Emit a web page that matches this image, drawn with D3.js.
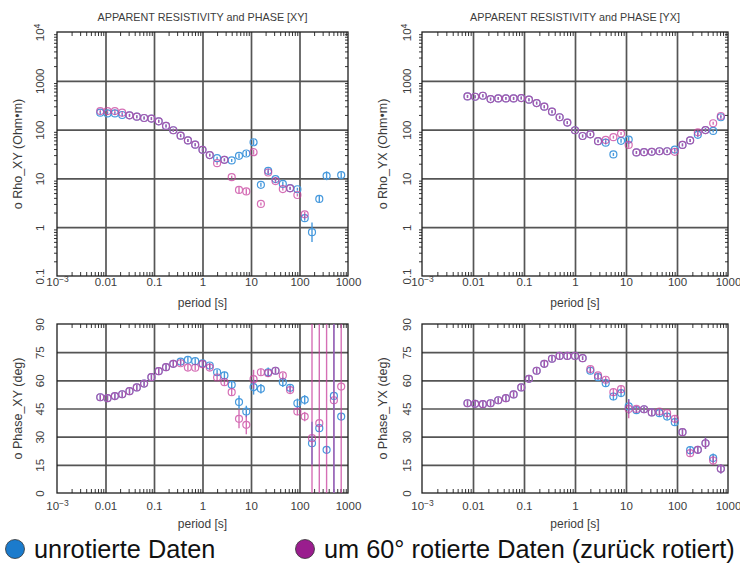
<!DOCTYPE html>
<html><head><meta charset="utf-8">
<script src="https://cdn.jsdelivr.net/npm/d3@7"></script>
<style>
body{margin:0;background:#fff;}
svg{display:block;font-family:"Liberation Sans",Arial,Helvetica,sans-serif;}
</style></head><body>
<svg id="chart" width="740" height="563"></svg>
<script>
// periods [s]
const periods=[0.0078,0.011,0.0156,0.0221,0.03125,0.0442,0.0625,0.0884,0.125,0.177,0.25,0.354,0.5,0.707,
  1,1.41,2,2.83,4,5.66,8,11.3,16,22.6,32,45.3,64,90.5,128,181,256,362,512,724];

// apparent resistivity XY / YX (Ohm m), blue = unrotated, pink = rotated back
const rhoXYBlue=[222,215,215,199,196,184,173,168,148,119,97,75,60,49,
  38.5,30,26,24,23.3,29,32.4,55,7.4,14.3,9.7,7.7,6.3,6.0,1.53,0.79,3.8,11.3,null,11.7];
const rhoXYPink=[240,240,240,222,196,184,173,168,148,119,97,75,60,49,
  38.5,30,20.5,24,10.6,5.8,5.4,34.4,3.0,13.2,8.8,6.05,6.25,4.57,1.84,null,null,null,null,null];
const rhoYXBlue=[479,471,494,422,436,436,436,443,410,350,295,233,179,139,
  97,74,80,58,54,31,59,62.5,34,34.5,35,36,36,39,48.6,60,78,98,94,179];
const rhoYXPink=[479,471,494,422,436,436,436,443,410,350,295,233,179,139,
  97,74,80,58,61.5,70,83,48.6,34,34.5,35,36,36,35,48.6,60,88,98,135,190];
// errors in decades
const rhoXYBlueErr=[.03,.03,.03,.03,.03,.03,.03,.03,.03,.03,.03,.03,.03,.03,
  .03,.03,.03,.03,.03,.05,.05,.06,.04,.05,.04,.05,.03,.03,.05,.2,.07,.09,0,.06];
const rhoXYPinkErr=[.03,.03,.03,.03,.03,.03,.03,.03,.03,.03,.03,.03,.03,.03,
  .03,.03,.03,.03,.03,.07,.06,.05,.03,.04,.04,.03,.03,.03,.05,0,0,0,0,0];
const rhoYXBlueErr=[.03,.03,.03,.03,.03,.03,.03,.03,.03,.03,.03,.03,.03,.03,
  .03,.03,.03,.03,.04,.03,.04,.05,.03,.03,.03,.03,.03,.03,.03,.03,.05,.04,.03,.03];
const rhoYXPinkErr=[.03,.03,.03,.03,.03,.03,.03,.03,.03,.03,.03,.03,.03,.03,
  .03,.03,.03,.03,.03,.03,.03,.06,.03,.03,.03,.03,.03,.03,.03,.03,.05,.03,.03,.03];

// phase XY / YX (deg)
const phaseXYBlue=[51.0,50.5,51.6,52.6,54.2,56.2,58.3,61.7,64.9,67.0,68.8,70.0,70.9,70.2,
  69.0,67.9,64.3,62.6,57.6,48.4,43.4,56.4,55.5,64.3,65.1,59.0,56.0,47.8,49.6,26.5,34.5,23.0,51.7,40.7];
const phaseXYPink=[51.0,50.5,51.6,52.6,54.2,56.2,58.3,61.7,64.9,67.0,68.8,69.1,66.8,66.7,
  68.6,66.8,61.5,59.0,53.7,39.5,36.3,60.6,64.3,63.8,65.1,62.6,54.8,43.4,40.7,29.2,37.2,-3,49.4,56.7];
const phaseYXBlue=[47.8,47.5,47.3,47.8,49.4,50.5,52.5,56.2,60.8,65.1,68.8,71.5,73.0,73.0,
  73.0,71.8,65.1,61.7,58.5,51.4,53.2,46.1,44.1,44.6,42.9,42.5,40.7,37.7,32.4,22.8,23.0,26.5,18.6,12.9];
const phaseYXPink=[47.8,47.5,47.3,47.8,49.4,50.5,52.5,56.2,60.8,65.1,68.8,71.5,73.0,73.0,
  73.0,71.8,66.0,62.6,60.3,53.7,55.3,44.8,44.8,44.6,42.9,43.4,42.5,39.5,32.4,21.2,23.0,26.5,17.3,12.9];
const phaseXYBlueErr=[1.5,1.5,1.5,1.5,1.5,1.5,1.5,1.5,1.5,1.5,1.5,1.5,1.5,1.5,
  1.5,1.5,1.5,2,2,3.5,3,4,2.5,2.5,1.5,2.5,1.5,2.5,2.5,11.5,1.5,1.5,95,1.5];
const phaseXYPinkErr=[1.5,1.5,1.5,1.5,1.5,1.5,1.5,1.5,1.5,1.5,1.5,1.5,1.5,1.5,
  1.5,1.5,1.5,1.5,2,5,5,5,2,1.5,1.5,1.5,1.5,2,2.5,95,95,95,95,95];
const phaseYXBlueErr=[1.5,1.5,1.5,1.5,1.5,1.5,1.5,1.5,1.5,1.5,1.5,1.5,1.5,1.5,
  1,1,1.5,1.5,1.5,2,2,4,1.5,1.5,1.5,1.5,1.5,2,1.5,2,2,3,2.5,2.5];
const phaseYXPinkErr=[1.5,1.5,1.5,1.5,1.5,1.5,1.5,1.5,1.5,1.5,1.5,1.5,1.5,1.5,
  1,1,1.5,1.5,1.5,2,2,5,1.5,1.5,1.5,1.5,1.5,2,1.5,2,2,3,2.5,2.5];

const xDecades=[1e-3,1e-2,1e-1,1,10,100,1000];
const xLabels=["10","0.01","0.1","1","10","100","1000"];
const rhoTicks=[0.1,1,10,100,1000,1e4];
const rhoLabels=["0.1","1","10","100","1000","10"];
const phaseTicks=[0,15,30,45,60,75,90];

const svg=d3.select("#chart");
const ink="#1e1e1e",gridc="#555",lab="#3c3c3c";
const blue="#4699dd",pink="#c8409e";

function panel(o){
  const x=d3.scaleLog().domain([1e-3,1e3]).range([o.left,o.right]);
  const y=o.log?d3.scaleLog().domain([0.1,1e4]).range([o.bottom,o.top])
               :d3.scaleLinear().domain([0,90]).range([o.bottom,o.top]);
  const w=o.right-o.left,h=o.bottom-o.top;
  const g=svg.append("g");
  g.append("clipPath").attr("id","clip"+o.id).append("rect")
    .attr("x",o.left).attr("y",o.top).attr("width",w).attr("height",h);

  // grid
  g.append("g").attr("transform",`translate(0,${o.bottom})`)
    .call(d3.axisBottom(x).tickValues(xDecades.slice(1,-1)).tickSize(-h).tickFormat(""))
    .call(s=>s.select(".domain").remove())
    .call(s=>s.selectAll("line").attr("stroke",gridc).attr("stroke-width",1.7));
  const yt=o.log?rhoTicks:phaseTicks;
  g.append("g").attr("transform",`translate(${o.left},0)`)
    .call(d3.axisLeft(y).tickValues(yt.slice(1,-1)).tickSize(-w).tickFormat(""))
    .call(s=>s.select(".domain").remove())
    .call(s=>s.selectAll("line").attr("stroke",gridc).attr("stroke-width",1.7));

  // minor ticks
  const minor=x.ticks().filter(v=>!xDecades.some(d=>Math.abs(v/d-1)<1e-6));
  const tk=s=>s.call(a=>a.select(".domain").remove())
    .call(a=>a.selectAll("line").attr("stroke",ink).attr("stroke-width",0.9));
  g.append("g").attr("transform",`translate(0,${o.bottom})`)
    .call(d3.axisBottom(x).tickValues(minor).tickSize(-4).tickFormat("")).call(tk);
  g.append("g").attr("transform",`translate(0,${o.top})`)
    .call(d3.axisTop(x).tickValues(minor).tickSize(-4).tickFormat("")).call(tk);
  if(o.log){
    const ym=y.ticks().filter(v=>!rhoTicks.some(d=>Math.abs(v/d-1)<1e-6));
    g.append("g").attr("transform",`translate(${o.left},0)`)
      .call(d3.axisLeft(y).tickValues(ym).tickSize(3).tickFormat("")).call(tk);
    g.append("g").attr("transform",`translate(${o.right},0)`)
      .call(d3.axisRight(y).tickValues(ym).tickSize(-3).tickFormat("")).call(tk);
  }

  // frame
  g.append("rect").attr("x",o.left).attr("y",o.top).attr("width",w).attr("height",h)
    .attr("fill","none").attr("stroke",ink).attr("stroke-width",1.3);

  // x labels
  g.append("g").attr("transform",`translate(0,${o.bottom})`)
    .call(d3.axisBottom(x).tickValues(xDecades).tickSize(0).tickPadding(o.xpad)
      .tickFormat((d,i)=>xLabels[i]))
    .call(s=>s.select(".domain").remove())
    .call(s=>s.selectAll("text").attr("font-size",11.5).attr("fill",lab).attr("font-family",null)
      .each(function(d){ if(d===1e-3) d3.select(this).append("tspan").attr("dy","-0.45em")
        .attr("font-size",8.5).text("−3"); }));

  // y labels (rotated)
  const labels=o.log?rhoLabels:phaseTicks.map(String);
  g.append("g").attr("transform",`translate(${o.left},0)`)
    .call(d3.axisLeft(y).tickValues(yt).tickSize(0).tickFormat((d,i)=>labels[i]))
    .call(s=>s.select(".domain").remove())
    .call(s=>s.selectAll("text").attr("font-size",11.5).attr("fill",lab).attr("font-family",null)
      .attr("transform","rotate(-90)").attr("x",0).attr("y",-o.ypad).attr("dy",0)
      .attr("text-anchor","middle")
      .each(function(d){ if(o.log&&d===1e4) d3.select(this).append("tspan").attr("dy","-0.45em")
        .attr("font-size",8.5).text("4"); }));

  // axis titles
  g.append("text").attr("x",(o.left+o.right)/2).attr("y",o.bottom+o.tpad)
    .attr("text-anchor","middle").attr("font-size",12).attr("fill",lab).text("period [s]");
  g.append("text").attr("transform",`translate(${o.left-o.ttl},${(o.top+o.bottom)/2}) rotate(-90)`)
    .attr("text-anchor","middle").attr("font-size",12.5).attr("fill",lab).text(o.ylabel);
  if(o.title) g.append("text").attr("x",(o.left+o.right)/2).attr("y",21)
    .attr("text-anchor","middle").attr("font-size",10.8).attr("fill",lab).text(o.title);

  // data
  const plot=g.append("g").attr("clip-path",`url(#clip${o.id})`);
  o.series.forEach(sr=>{
    const pts=periods.map((p,i)=>({p,v:sr.vals[i],e:sr.errs[i]})).filter(d=>d.v!=null);
    const lo=d=>o.log?d.v*Math.pow(10,-d.e):d.v-d.e;
    const hi=d=>o.log?d.v*Math.pow(10,d.e):d.v+d.e;
    const sg=plot.append("g").attr("opacity",sr.op);
    sg.selectAll("line").data(pts).join("line")
      .attr("x1",d=>x(d.p)).attr("x2",d=>x(d.p))
      .attr("y1",d=>y(Math.max(lo(d),o.log?1e-3:-10))).attr("y2",d=>y(hi(d)))
      .attr("stroke",sr.color).attr("stroke-width",1.4);
    sg.selectAll("circle").data(pts).join("circle")
      .attr("cx",d=>x(d.p)).attr("cy",d=>y(d.v)).attr("r",3.5)
      .attr("fill","none").attr("stroke",sr.color).attr("stroke-width",1.2);
  });
}

panel({id:1,left:57,right:348,top:32,bottom:276,log:true,xpad:2,ypad:13,tpad:31,ttl:35,
  title:"APPARENT RESISTIVITY and PHASE [XY]",ylabel:"o Rho_XY (Ohm\u2022m)",
  series:[{vals:rhoXYBlue,errs:rhoXYBlueErr,color:blue,op:1},{vals:rhoXYPink,errs:rhoXYPinkErr,color:pink,op:0.75}]});
panel({id:2,left:422,right:728,top:32,bottom:276,log:true,xpad:2,ypad:11,tpad:31,ttl:35,
  title:"APPARENT RESISTIVITY and PHASE  [YX]",ylabel:"o Rho_YX (Ohm\u2022m)",
  series:[{vals:rhoYXBlue,errs:rhoYXBlueErr,color:blue,op:1},{vals:rhoYXPink,errs:rhoYXPinkErr,color:pink,op:0.75}]});
panel({id:3,left:57,right:348,top:324,bottom:493,log:false,xpad:9,ypad:13,tpad:35,ttl:35,
  ylabel:"o Phase_XY (deg)",
  series:[{vals:phaseXYBlue,errs:phaseXYBlueErr,color:blue,op:1},{vals:phaseXYPink,errs:phaseXYPinkErr,color:pink,op:0.75}]});
panel({id:4,left:422,right:728,top:324,bottom:493,log:false,xpad:9,ypad:11,tpad:35,ttl:35,
  ylabel:"o Phase_YX (deg)",
  series:[{vals:phaseYXBlue,errs:phaseYXBlueErr,color:blue,op:1},{vals:phaseYXPink,errs:phaseYXPinkErr,color:pink,op:0.75}]});

// legend
const legend=[{label:"unrotierte Daten",color:"#1b7bcc",x:15},
  {label:"um 60\u00b0 rotierte Daten (zur\u00fcck rotiert)",color:"#9a1d8e",x:305}];
const lg=svg.append("g").selectAll("g").data(legend).join("g")
  .attr("transform",d=>`translate(${d.x},549)`);
lg.append("circle").attr("r",9.5).attr("fill",d=>d.color).attr("stroke","#333").attr("stroke-width",0.8);
lg.append("text").attr("x",19).attr("y",8.5).attr("font-size",25.3).attr("fill","#111").text(d=>d.label);
</script>
</body></html>
